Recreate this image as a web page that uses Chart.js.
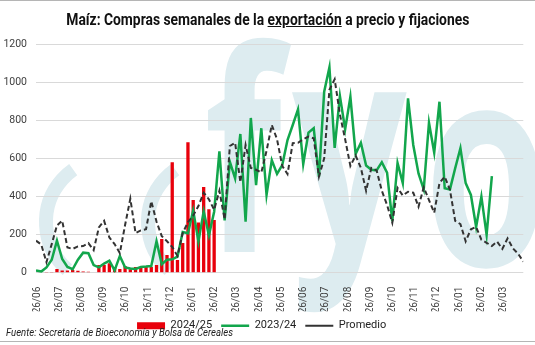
<!DOCTYPE html>
<html>
<head>
<meta charset="utf-8">
<script src="https://cdn.jsdelivr.net/npm/chart.js@4"></script>
<style>
  html, body { margin: 0; padding: 0; background: #fff; }
  #wrap { position: relative; width: 535px; height: 345px; overflow: hidden; }
  #wrap canvas { position: absolute; left: 0; top: 0; }
  #title {
    position: absolute; top: 10px; left: 0; width: 535px; text-align: center;
    font: bold 16px Roboto, sans-serif; color: #111; white-space: nowrap;
  }
  #title span, #source span { display: inline-block; }
  #source {
    position: absolute; left: 6px; top: 326px; white-space: nowrap;
    font: italic 10.5px Roboto, sans-serif; color: #222;
  }
  #source span { transform-origin: left center; }
  .rule { position: absolute; left: 0; width: 535px; height: 1px; background: #b5b5b5; }
</style>
</head>
<body>
<div id="wrap">
  <canvas id="myChart" width="535" height="345"></canvas>
  <div class="rule" style="top:0"></div>
  <div class="rule" style="top:341px"></div>
  <div id="title"><span>Maíz: Compras semanales de la <u>exportación</u> a precio y fijaciones</span></div>
  <div id="source"><span>Fuente: Secretaría de Bioeconomía y Bolsa de Cereales</span></div>
</div>
<script>
// month labels along the x-axis
var tickLabels = ['26/06','26/07','26/08','26/09','26/10','26/11','26/12','26/01','26/02','26/03','26/04',
                  '26/05','26/06','26/07','26/08','26/09','26/10','26/11','26/12','26/01','26/02','26/03'];

// weekly purchases, thousand tonnes
var campaign2425 = [0,0,4,4,20,12,12,14,10,6,5,3,
                    40,40,50,30,20,35,18,30,30,35,30,40,
                    177,93,580,67,156,685,381,264,450,333,276];
var campaign2324 = [12,6,28,68,168,72,30,18,68,105,102,40,28,48,63,12,88,28,22,20,30,32,35,165,45,68,70,84,
                    213,207,327,163,322,196,320,637,275,582,495,728,268,812,460,758,408,591,518,565,
                    696,775,857,570,735,758,504,950,1078,655,
                    927,752,923,623,682,562,540,537,580,525,270,576,470,915,670,521,437,787,630,897,
                    443,437,548,653,470,408,240,399,198,507];
var promedio = [168,148,55,150,248,273,132,125,138,140,155,118,238,272,185,150,103,250,388,208,222,228,375,268,192,165,135,88,
                208,265,300,350,420,385,330,430,280,665,682,475,670,550,540,525,640,775,700,560,
                518,680,682,700,714,705,504,600,960,1015,
                830,700,560,615,550,430,550,537,430,355,262,445,405,425,420,346,448,381,315,470,
                504,435,272,255,165,228,240,173,157,140,163,125,180,128,100,58];

var weeks = promedio.map(function (v, i) { return i; });
var weeksPerMonth = 4.24;

var font = 'Roboto, sans-serif';

// squeeze the html texts to a condensed width
function squeeze(el, width) {
  var w = el.getBoundingClientRect().width;
  el.style.transform = 'scaleX(' + (width / w) + ')';
}
squeeze(document.querySelector('#title span'), 403);
squeeze(document.querySelector('#source span'), 227);

// pale logo behind the plot
var watermark = {
  id: 'watermark',
  beforeDraw: function (chart) {
    var c = chart.ctx;
    c.save();
    c.fillStyle = '#ddecf0';
    c.strokeStyle = '#ddecf0';
    c.lineWidth = 14;
    c.beginPath(); c.arc(110, 222, 64, 2.3, 4.1); c.stroke();
    c.beginPath(); c.arc(212, 222, 64, 2.3, 4.1); c.stroke();
    c.font = 'bold 280px "Open Sans", sans-serif';
    c.textBaseline = 'alphabetic';
    [['f', 204, 252], ['y', 292, 245], ['o', 424, 266]].forEach(function (g) {
      c.save();
      c.translate(g[1], g[2]);
      c.scale(0.72, 1);
      c.fillText(g[0], 0, 0);
      c.restore();
    });
    c.restore();
  }
};

var ctx = document.getElementById('myChart');
var myChart = new Chart(ctx, {
  type: 'line',
  data: {
    labels: weeks,
    datasets: [
      {
        type: 'bar',
        label: '2024/25',
        data: campaign2425,
        backgroundColor: '#e8000b',
        borderWidth: 0,
        barPercentage: 0.7,
        categoryPercentage: 0.9,
        pointStyle: 'rect',
        order: 3
      },
      {
        label: '2023/24',
        data: campaign2324,
        borderColor: '#12a64c',
        backgroundColor: '#12a64c',
        borderWidth: 2.5,
        pointRadius: 0,
        pointStyle: 'line',
        fill: false,
        order: 2
      },
      {
        label: 'Promedio',
        data: promedio,
        borderColor: '#333333',
        backgroundColor: '#333333',
        borderWidth: 2,
        borderDash: [5, 3],
        pointRadius: 0,
        pointStyle: 'line',
        fill: false,
        order: 1
      }
    ]
  },
  options: {
    responsive: false,
    animation: false,
    layout: { padding: { top: 44, left: 0, right: 11.7, bottom: 3.8 } },
    plugins: {
      tooltip: { enabled: false },
      legend: {
        position: 'bottom',
        labels: {
          usePointStyle: true,
          pointStyleWidth: 28,
          boxHeight: 7,
          padding: 9,
          color: '#222',
          font: { family: font, size: 11 },
          sort: function (a, b) { return a.datasetIndex - b.datasetIndex; }
        }
      }
    },
    scales: {
      x: {
        type: 'linear',
        min: 0,
        max: 93,
        offset: false,
        grid: { display: false },
        border: { display: false },
        afterBuildTicks: function (scale) {
          scale.ticks = tickLabels.map(function (l, k) { return { value: 0.2 + k * weeksPerMonth }; });
        },
        afterFit: function (scale) { scale.height = 38.5; },
        ticks: {
          autoSkip: false,
          minRotation: 90,
          maxRotation: 90,
          padding: 6,
          color: '#404040',
          font: { family: font, size: 10 },
          callback: function (v, i) { return tickLabels[i]; }
        }
      },
      y: {
        min: 0,
        max: 1200,
        grid: { color: '#d9d9d9', drawTicks: false },
        border: { display: false },
        afterFit: function (scale) { scale.width = 36; },
        ticks: {
          stepSize: 200,
          padding: 9,
          color: '#404040',
          font: { family: font, size: 10.5 },
          callback: function (v) { return String(v); }
        }
      }
    }
  },
  plugins: [watermark]
});
</script>
</body>
</html>
